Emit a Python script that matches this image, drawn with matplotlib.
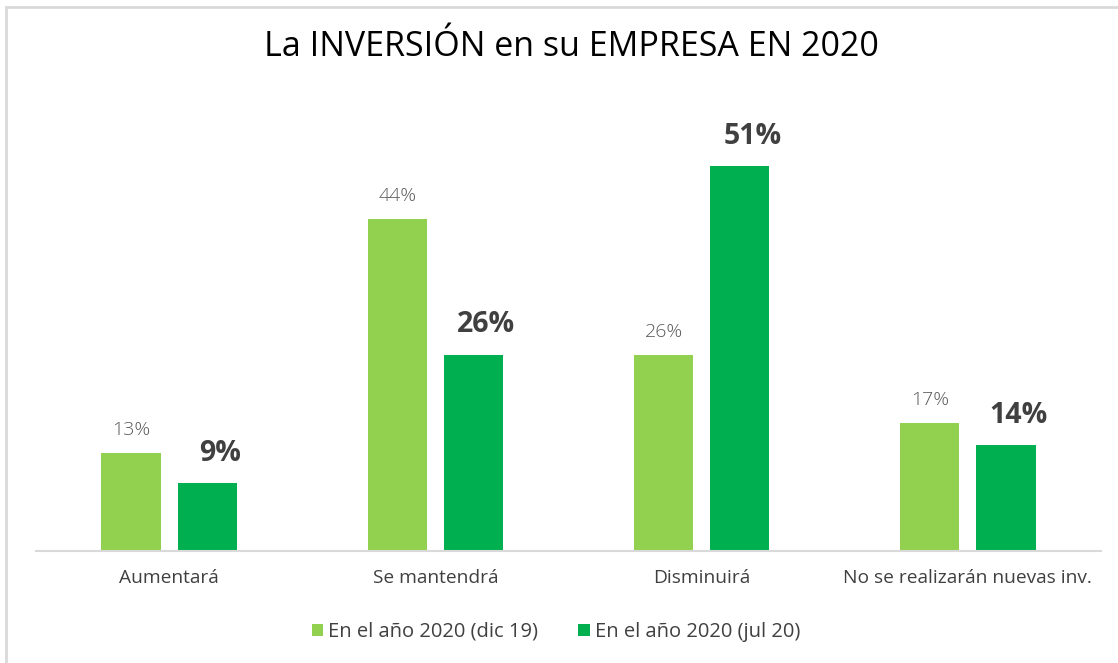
import matplotlib
matplotlib.use("Agg")
import numpy as np
from matplotlib import pyplot as plt
from matplotlib.patches import Rectangle

categories = ["Aumentará", "Se mantendrá", "Disminuirá", "No se realizarán nuevas inv."]
dic_19 = [13, 44, 26, 17]
jul_20 = [9, 26, 51, 14]
series_names = ["En el año 2020 (dic 19)", "En el año 2020 (jul 20)"]
title = "La INVERSIÓN en su EMPRESA EN 2020"

LIGHT_GREEN = "#92D050"
DARK_GREEN = "#00B050"
GREY_LINE = "#D9D9D9"
TEXT_DARK = "#404040"
TEXT_LIGHT = "#595959"

plt.rcParams["font.family"] = ["Open Sans", "DejaVu Sans"]

W, H = 1118, 663
fig = plt.figure(figsize=(W / 100, H / 100), dpi=100)
fig.patch.set_facecolor("white")

# axes placed in pixel terms
left, right, base = 36, 1101, 551
ymax = 60
px_per_unit = 7.55
top = base - ymax * px_per_unit
ax = fig.add_axes([left / W, (H - base) / H, (right - left) / W, (base - top) / H])

x = np.arange(len(categories))
width = 0.222
offset = 0.143

b1 = ax.bar(x - offset, dic_19, width, color=LIGHT_GREEN, label=series_names[0])
b2 = ax.bar(x + offset, jul_20, width, color=DARK_GREEN, label=series_names[1])

for rect, v in zip(b1, dic_19):
    ax.annotate(f"{v}%", (rect.get_x() + rect.get_width() / 2, v),
                xytext=(0, 10), textcoords="offset points",
                ha="center", va="bottom", fontsize=14, color=TEXT_LIGHT,
                fontweight="light")
for rect, v in zip(b2, jul_20):
    ax.annotate(f"{v}%", (rect.get_x() + rect.get_width() / 2, v),
                xytext=(9, 11), textcoords="offset points",
                ha="center", va="bottom", fontsize=20.5, color=TEXT_DARK,
                fontweight="bold")

ax.set_xlim(-0.5, len(categories) - 0.5)
ax.set_ylim(0, ymax)
ax.set_xticks(x)
ax.set_xticklabels(categories, fontsize=13.8, color=TEXT_DARK)
ax.tick_params(axis="x", length=0, pad=13)
ax.set_yticks([])
for s in ["top", "right", "left"]:
    ax.spines[s].set_visible(False)
ax.spines["bottom"].set_color(GREY_LINE)
ax.spines["bottom"].set_linewidth(1.5)

fig.text(571 / W, 1 - 47 / H, title, ha="center", va="center",
         fontsize=24.5, color="black")

leg = fig.legend(loc="center", bbox_to_anchor=(556 / W, 1 - 632 / H), ncol=2,
                 frameon=False, fontsize=14.5, handlelength=0.55, handleheight=0.55,
                 handletextpad=0.25, columnspacing=2.0)
for t in leg.get_texts():
    t.set_color(TEXT_DARK)

# light grey frame around chart area
fig.patches.append(Rectangle((6 / W, -0.1), 1.2, 1 - 7 / H + 0.1,
                             transform=fig.transFigure, fill=False,
                             edgecolor=GREY_LINE, linewidth=2, zorder=-1))

fig.savefig("out.png", dpi=100, facecolor="white")
